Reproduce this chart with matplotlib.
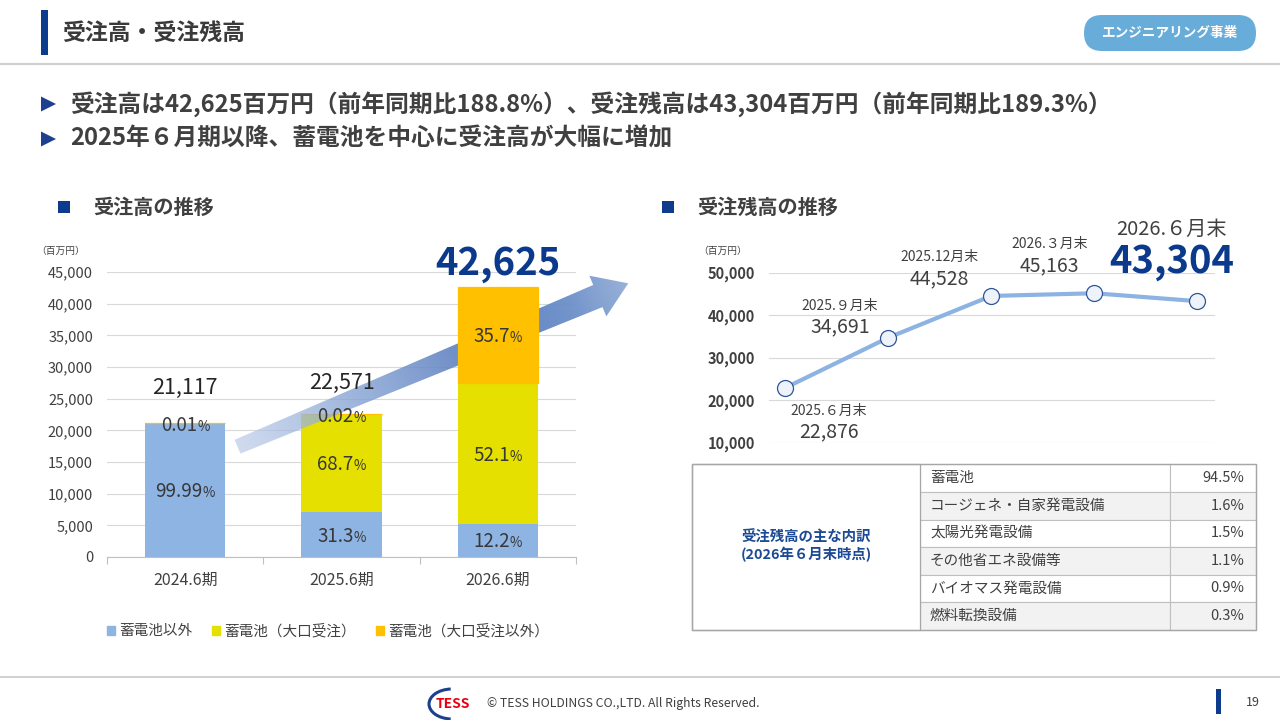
import numpy as np
import matplotlib
matplotlib.use("Agg")
import matplotlib.pyplot as plt
import matplotlib.transforms as mtransforms
from matplotlib.patches import Rectangle, FancyBboxPatch, Polygon, Arc, Patch

plt.rcParams["font.family"] = ["Noto Sans CJK JP", "DejaVu Sans"]

# ---- data ----
periods = ["2024.6期", "2025.6期", "2026.6期"]
totals = [21117, 22571, 42625]
share_other = [99.99, 31.3, 12.2]     # 蓄電池以外
share_large = [0.0, 68.7, 52.1]       # 蓄電池（大口受注）
share_small = [0.01, 0.02, 35.7]      # 蓄電池（大口受注以外）
seg_names = ["蓄電池以外", "蓄電池（大口受注）", "蓄電池（大口受注以外）"]

backlog_dates = ["2025.６月末", "2025.９月末", "2025.12月末", "2026.３月末", "2026.６月末"]
backlog = [22876, 34691, 44528, 45163, 43304]

breakdown_items = ["蓄電池", "コージェネ・自家発電設備", "太陽光発電設備",
                   "その他省エネ設備等", "バイオマス発電設備", "燃料転換設備"]
breakdown_pct = [94.5, 1.6, 1.5, 1.1, 0.9, 0.3]

TXT = "#404040"
NAVY = "#0d3c8f"
W, H = 1280, 720

fig = plt.figure(figsize=(12.8, 7.2), dpi=100)
fig.patch.set_facecolor("white")
pxT = mtransforms.Affine2D().scale(1 / W, -1 / H).translate(0, 1) + fig.transFigure


def box(x0, y0, x1, y1):
    return [x0 / W, 1 - y1 / H, (x1 - x0) / W, (y1 - y0) / H]


def num_label(ax, x, y, s, size, dx=0, dy=0, **kw):
    # dx, dy in pixels (dy positive = down); text centred on digit height
    return ax.annotate(s, (x, y), xytext=(dx * 0.72, -dy * 0.72 - 0.37 * size),
                       textcoords="offset points", ha="center", va="baseline",
                       fontsize=size, annotation_clip=False, **kw)


renderer = fig.canvas.get_renderer()


def pct_label(ax, x, y, num, size=13.5, dy=0):
    kw = dict(textcoords="offset points", va="baseline", color="#383838", zorder=6,
              annotation_clip=False)
    t1 = ax.annotate(num, (x, y), xytext=(0, -dy * 0.72 - 0.37 * size), ha="right",
                     fontsize=size, **kw)
    t2 = ax.annotate("%", (x, y), xytext=(0, -dy * 0.72 - 0.37 * size), ha="left",
                     fontsize=size * 0.72, **kw)
    w1 = t1.get_window_extent(renderer).width
    w2 = t2.get_window_extent(renderer).width
    sh = (w1 - w2) / 2 * 0.72
    for t in (t1, t2):
        ox, oy = t.xyann
        t.xyann = (ox + sh, oy)


# ---- overlay (page furniture) ----
ov = fig.add_axes([0, 0, 1, 1])
ov.set_xlim(0, W)
ov.set_ylim(H, 0)
ov.axis("off")

ov.add_patch(Rectangle((41, 10), 7, 45, color=NAVY, lw=0))
ov.text(62, 33, "受注高・受注残高", fontsize=16.5, weight="bold", color="#3a3a3a",
        va="center", ha="left")
ov.plot([0, W], [64, 64], color="#d0d0d0", lw=1.6)
ov.add_patch(FancyBboxPatch((1084, 15), 172, 36, boxstyle="round,pad=0,rounding_size=18",
                            fc="#68acd9", ec="none"))
ov.text(1170, 33, "エンジニアリング事業", fontsize=9.8, color="white", weight="bold",
        ha="center", va="center")

bullets = ["受注高は42,625百万円（前年同期比188.8%）、受注残高は43,304百万円（前年同期比189.3%）",
           "2025年６月期以降、蓄電池を中心に受注高が大幅に増加"]
for yb, s in zip([104, 139], bullets):
    ov.add_patch(Polygon([(41, yb - 7.5), (41, yb + 7.5), (56, yb)], closed=True,
                         color="#1f3f8f", lw=0))
    ov.text(70, yb, s, fontsize=17.1, weight="bold", color=TXT, ha="left", va="center")

for xs, xt, s in [(58, 93, "受注高の推移"), (662, 697, "受注残高の推移")]:
    ov.add_patch(Rectangle((xs, 201), 12, 12, color=NAVY, lw=0))
    ov.text(xt, 207, s, fontsize=14.5, weight="bold", color=TXT, ha="left", va="center")

ov.text(61, 251, "（百万円）", fontsize=7, color=TXT, ha="center", va="center")
ov.text(723, 251, "（百万円）", fontsize=7, color=TXT, ha="center", va="center")

# table
tx0, tx1, tx2, tx3 = 692, 920, 1170, 1255.5
ty0, rh = 464.3, 27.6
nrow = len(breakdown_items)
for i, (item, pct) in enumerate(zip(breakdown_items, breakdown_pct)):
    y = ty0 + i * rh
    fc = "#f2f2f2" if i % 2 else "white"
    ov.add_patch(Rectangle((tx1, y), tx2 - tx1, rh, fc=fc, ec="#bfbfbf", lw=0.8))
    ov.add_patch(Rectangle((tx2, y), tx3 - tx2, rh, fc=fc, ec="#bfbfbf", lw=0.8))
    ov.text(tx1 + 10, y + rh / 2, item, fontsize=10.5, color=TXT, ha="left", va="center")
    ov.text(tx3 - 11, y + rh / 2, f"{pct:.1f}%", fontsize=10.5, color=TXT, ha="right", va="center")
ov.add_patch(Rectangle((tx0, ty0), tx1 - tx0, rh * nrow, fc="white", ec="#a6a6a6", lw=0.9))
ov.add_patch(Rectangle((tx0, ty0), tx3 - tx0, rh * nrow, fc="none", ec="#a6a6a6", lw=1.0))
ov.text(806, 537.5, "受注残高の主な内訳", fontsize=10.4, weight="bold", color="#1c4a94",
        ha="center", va="center")
ov.text(806, 554.5, "(2026年６月末時点)", fontsize=10.4, weight="bold", color="#1c4a94",
        ha="center", va="center")

# footer
ov.plot([0, W], [677, 677], color="#d0d0d0", lw=1.4)
ov.add_patch(Arc((452, 704), 46, 30, theta1=95, theta2=265, color="#1d3f8f", lw=2.2))
ov.text(453, 704, "TESS", fontsize=10, weight="bold", color="#e60012", ha="center", va="center",
        style="italic")
ov.text(487, 703, "© TESS HOLDINGS CO.,LTD. All Rights Reserved.", fontsize=8.8, color=TXT,
        ha="left", va="center")
ov.add_patch(Rectangle((1216, 689), 5, 25, color=NAVY, lw=0))
ov.text(1253, 703, "19", fontsize=9, color=TXT, ha="center", va="center")

# ---- left: stacked bars ----
ax1 = fig.add_axes(box(107, 272, 576, 557))
ax1.set_facecolor("none")
ax1.set_xlim(-0.5, 2.5)
ax1.set_ylim(0, 45000)
x = np.arange(len(periods))
bw = 0.512
seg_shares = [share_other, share_large, share_small]
seg_colors = ["#8eb4e3", "#e6e000", "#ffc000"]
for i in range(len(periods)):
    z = 4 if i == len(periods) - 1 else 2
    bottom = 0.0
    for k, shares in enumerate(seg_shares):
        v = totals[i] * shares[i] / 100
        ax1.bar(x[i], v, bw, bottom=bottom, color=seg_colors[k], zorder=z,
                ec=seg_colors[k] if k == 2 else "none", lw=0.9 if k == 2 else 0)
        if shares[i] > 1:
            pct_label(ax1, x[i], bottom + v / 2, f"{shares[i]:g}")
        elif shares[i] > 0:
            pct_label(ax1, x[i], bottom + v, f"{shares[i]:g}", dy=1)
        bottom += v

total_dy = [-37, -33, -27]
for i, t in enumerate(totals):
    if i == len(totals) - 1:
        num_label(ax1, x[i], t, f"{t:,}", 27.5, dy=total_dy[i], color="#0b3a8c", weight="bold", zorder=6)
    else:
        num_label(ax1, x[i], t, f"{t:,}", 15.5, dy=total_dy[i], color="#262626", zorder=6)

# growth arrow (gradient, drawn between bar 2 and bar 3)
tail = np.array([237.5, 446.7])
tip = np.array([628.3, 283.3])
u = tip - tail
L = np.hypot(*u)
u = u / L
n = np.array([-u[1], u[0]])
base = tip - 33 * u
pts = [tail - 7.5 * n, base - 12 * n, base - 22 * n, tip, base + 22 * n, base + 12 * n, tail + 7.5 * n]
pts = np.array(pts)
poly = Polygon(pts, closed=True, transform=pxT, fc="none", ec="none", clip_on=False)
ax1.add_patch(poly)
gx0, gy0 = np.floor(pts.min(axis=0)) - 1
gx1, gy1 = np.ceil(pts.max(axis=0)) + 1
gxs = np.arange(gx0, gx1) + 0.5
gys = np.arange(gy0, gy1) + 0.5
GX, GY = np.meshgrid(gxs, gys)
tt = np.clip(((GX - tail[0]) * u[0] + (GY - tail[1]) * u[1]) / L, 0, 1)
stops = [0.0, 0.3, 0.65, 0.85, 1.0]
rgba = np.dstack([
    np.interp(tt, stops, [0.74, 0.52, 0.34, 0.42, 0.58]),
    np.interp(tt, stops, [0.80, 0.64, 0.48, 0.56, 0.68]),
    np.interp(tt, stops, [0.91, 0.83, 0.74, 0.79, 0.84]),
    np.interp(tt, stops, [0.7, 0.8, 0.95, 0.95, 0.95]),
])
im = ax1.imshow(rgba, extent=(gx0, gx1, gy1, gy0), transform=pxT, origin="upper",
                aspect="auto", interpolation="bilinear", zorder=3)
im.set_clip_path(poly)
im.set_clip_box(fig.bbox)

ax1.set_xlim(-0.5, 2.5)
ax1.set_ylim(0, 45000)
ax1.set_yticks(np.arange(0, 45001, 5000))
ax1.set_yticklabels([f"{v:,}" for v in range(0, 45001, 5000)])
ax1.set_xticks(x)
ax1.set_xticklabels(periods)
ax1.set_xticks([-0.5, 0.5, 1.5, 2.5], minor=True)
ax1.tick_params(axis="y", length=0, pad=10, labelsize=10.5, labelcolor=TXT)
ax1.tick_params(axis="x", which="major", length=0, pad=11, labelsize=11.5, labelcolor=TXT)
ax1.tick_params(axis="x", which="minor", length=5, color="#bfbfbf", width=0.8)
ax1.grid(axis="y", color="#d9d9d9", lw=0.8)
ax1.set_axisbelow(True)
for s in ["top", "right", "left"]:
    ax1.spines[s].set_visible(False)
ax1.spines["bottom"].set_color("#bfbfbf")
ax1.spines["bottom"].set_linewidth(0.8)

handles = [Patch(color=c) for c in seg_colors]
ax1.legend(handles, seg_names, loc="center", bbox_to_anchor=(328 / W, 1 - 631 / H),
           bbox_transform=fig.transFigure, ncol=3, frameon=False, fontsize=10.5,
           handlelength=0.55, handleheight=0.55, handletextpad=0.3, columnspacing=1.35,
           labelcolor=TXT, borderaxespad=0)

# ---- right: order backlog line ----
ax2 = fig.add_axes(box(768.6, 272.7, 1215, 442.7))
ax2.set_facecolor("none")
xb = np.arange(len(backlog))
ax2.plot(xb, backlog, color="#8db3e2", lw=3, marker="o", ms=11.5, mfc="#eef3fb",
         mec="#2f5597", mew=0.9, zorder=3)
ax2.set_xlim(-0.159, 4.171)
ax2.set_ylim(10000, 50000)
ax2.set_yticks(np.arange(10000, 50001, 10000))
ax2.set_yticklabels([f"{v:,}" for v in range(10000, 50001, 10000)])
ax2.set_xticks([])
ax2.tick_params(axis="y", length=0, pad=10, labelsize=10.5, labelcolor=TXT)
for lab in ax2.get_yticklabels():
    lab.set_fontweight("bold")
ax2.grid(axis="y", color="#d9d9d9", lw=0.8)
ax2.set_axisbelow(True)
for s in ax2.spines.values():
    s.set_visible(False)

date_off = [(44, 22), (-48, -33), (-52, -40), (-45, -50), (-26, -74)]
val_off = [(44, 42), (-48, -13), (-52, -19), (-45, -29), (-26, -43)]
for i, (d, v) in enumerate(zip(backlog_dates, backlog)):
    last = i == len(backlog) - 1
    num_label(ax2, xb[i], v, d, 14.5 if last else 10, dx=date_off[i][0], dy=date_off[i][1],
              color=TXT)
    if last:
        num_label(ax2, xb[i], v, f"{v:,}", 27.5, dx=val_off[i][0], dy=val_off[i][1],
                  color="#0b3a8c", weight="bold")
    else:
        num_label(ax2, xb[i], v, f"{v:,}", 14, dx=val_off[i][0], dy=val_off[i][1], color=TXT)

fig.savefig("out.png", dpi=100, facecolor="white")
